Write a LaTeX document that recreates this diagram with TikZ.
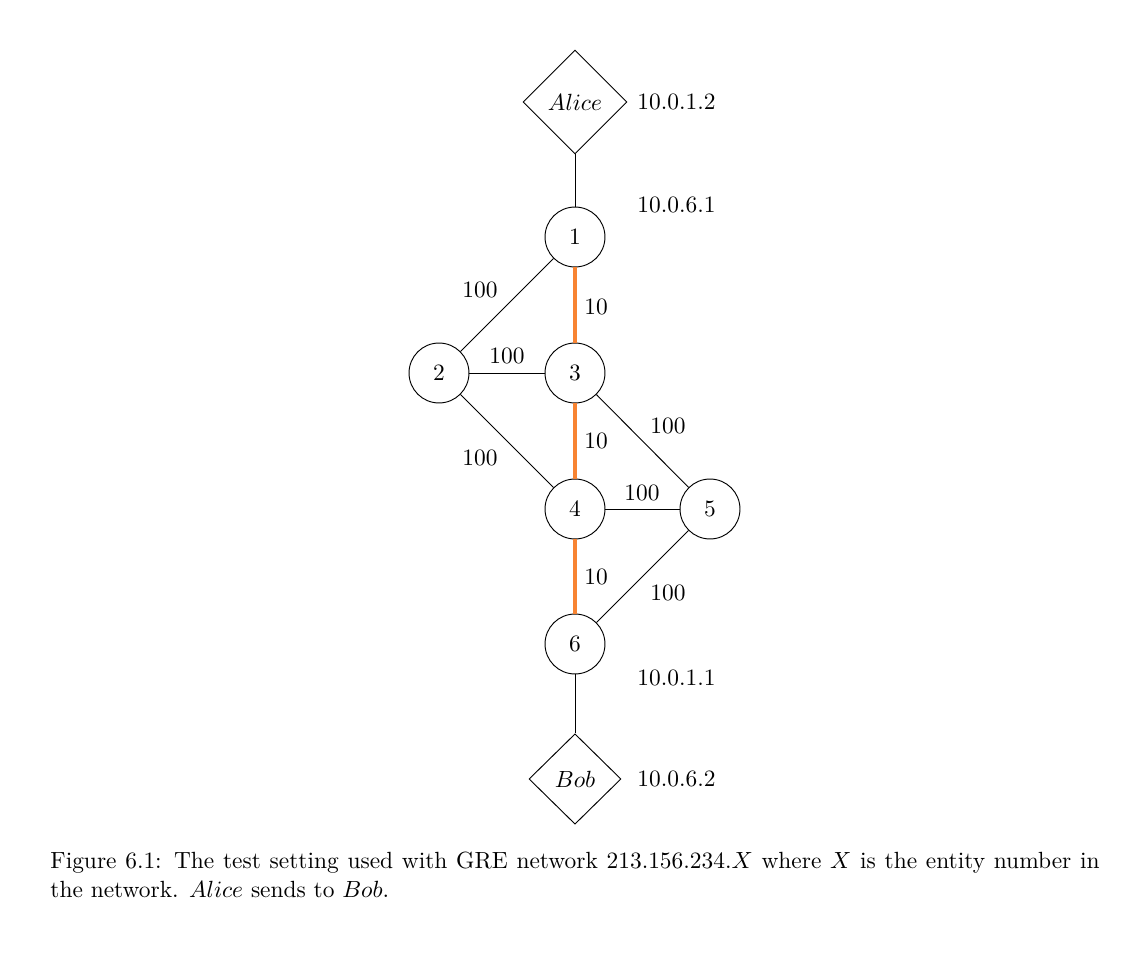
\documentclass[tikz,border=0pt]{standalone}
\usetikzlibrary{shapes.geometric}
\definecolor{pathorange}{RGB}{248,132,50}
\begin{document}
\begin{tikzpicture}[x=0.427pt,y=-0.427pt,
  router/.style={circle,draw,line width=0.4pt,minimum size=25.6pt,inner sep=0pt},
  host/.style={diamond,draw,line width=0.4pt,aspect=1,inner sep=0pt},
  link/.style={line width=0.4pt},
  hot/.style={line width=1.5pt,draw=pathorange},
  lbl/.style={inner sep=0pt},
  addr/.style={inner sep=0pt,anchor=west}]
\useasboundingbox (0,0) rectangle (1137,964);
% nodes
\node[host,minimum width=44.4pt,minimum height=44.4pt] (alice) at (575,102) {$Alice$};
\node[router] (n1) at (575,237) {1};
\node[router] (n2) at (439,373) {2};
\node[router] (n3) at (575,373) {3};
\node[router] (n4) at (575,509) {4};
\node[router] (n5) at (710,509) {5};
\node[router] (n6) at (575,644) {6};
\node[host,minimum width=39.3pt,minimum height=38.6pt] (bob) at (575,779) {$Bob$};
% links
\draw[link] (alice) -- (n1);
\draw[link] (n1) -- (n2);
\draw[hot] (n1) -- (n3);
\draw[link] (n2) -- (n3);
\draw[link] (n2) -- (n4);
\draw[hot] (n3) -- (n4);
\draw[link] (n3) -- (n5);
\draw[link] (n4) -- (n5);
\draw[hot] (n4) -- (n6);
\draw[link] (n5) -- (n6);
\draw[link] (n6) -- (bob);
% link weights
\node[lbl] (w12) at (480,290) {100};
\node[lbl] (w13) at (596,307) {10};
\node[lbl] (w23) at (507,356) {100};
\node[lbl] (w34) at (596,441) {10};
\node[lbl] (w35) at (668,426) {100};
\node[lbl] (w24) at (480,458) {100};
\node[lbl] (w45) at (642,493) {100};
\node[lbl] (w46) at (596,577) {10};
\node[lbl] (w56) at (668,593) {100};
% addresses
\node[addr] (a1) at (637,102) {10.0.1.2};
\node[addr] (a2) at (637,205) {10.0.6.1};
\node[addr] (a3) at (637,678) {10.0.1.1};
\node[addr] (a4) at (637,779) {10.0.6.2};
% caption
\node[anchor=north west,inner sep=0pt,text width=448pt,align=justify] (cap) at (50,852)
 {Figure 6.1: The test setting used with GRE network 213.156.234.$X$ where $X$ is the entity number in the network. $Alice$ sends to $Bob$.};
\end{tikzpicture}
\end{document}
